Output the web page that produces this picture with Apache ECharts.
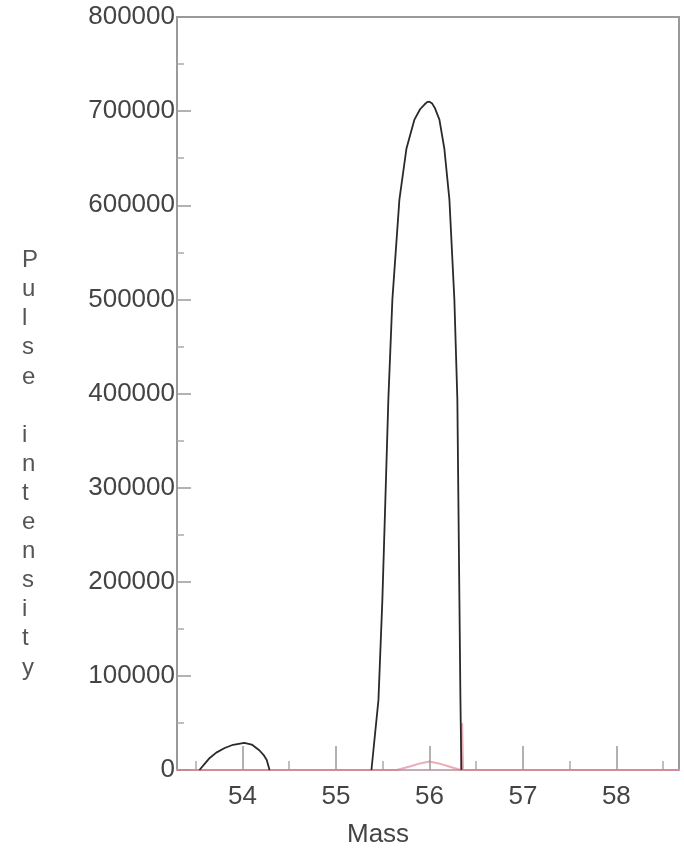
<!DOCTYPE html>
<html>
<head>
<meta charset="utf-8">
<script src="https://cdn.jsdelivr.net/npm/echarts@6/dist/echarts.min.js"></script>
<style>html,body{margin:0;padding:0;background:#fff}#c{width:684px;height:851px}</style>
</head>
<body>
<div id="c"></div>
<script>
// Data
const xTickValues = [54, 55, 56, 57, 58];
const xMinorValues = [53.5, 54.5, 55.5, 56.5, 57.5, 58.5];
const massMain = [53.54, 53.6, 53.65, 53.72, 53.81, 53.9, 54.02, 54.1, 54.18, 54.23, 54.26, 54.29, 54.8,
  55.38, 55.455, 55.497, 55.529, 55.561, 55.604, 55.679, 55.754, 55.84, 55.9, 55.947, 55.975, 56.0, 56.03, 56.06,
  56.107, 56.16, 56.214, 56.267, 56.299, 56.31, 56.321, 56.332, 56.342];
const intensityMain = [0, 7000, 12800, 18500, 23400, 26800, 28700, 27000, 21000, 15500, 10600, 0, null,
  0, 74500, 181000, 287000, 394000, 500000, 606000, 660000, 691000, 702000, 707000, 709500, 710000, 708000, 703000,
  691000, 660000, 606000, 500000, 394000, 287000, 181000, 74500, 0];
const massRed = [53.3, 55.65, 55.8, 55.9, 56.0, 56.1, 56.2, 56.3, 56.34, 56.35, 56.36, 58.67];
const intensityRed = [0, 0, 4000, 7000, 9000, 7000, 4000, 1000, 0, 50000, 0, 0];
const yLabelText = 'Pulse intensity';

const chart = echarts.init(document.getElementById('c'));
const font = 'Liberation Sans';
chart.setOption({
  animation: false,
  grid: {left: 177, right: 5, top: 17, bottom: 81, show: true, borderColor: '#9a9a9a', borderWidth: 2},
  xAxis: [{
    type: 'value', min: 53.3, max: 58.67,
    axisLine: {show: true, lineStyle: {color: '#c9aab2', width: 2}},
    axisTick: {show: true, inside: true, length: 24, customValues: xTickValues, lineStyle: {color: '#999', width: 1.5}},
    axisLabel: {customValues: xTickValues, color: '#444', fontFamily: font, fontSize: 26, margin: 14},
    splitLine: {show: false}
  }, {
    type: 'value', min: 53.3, max: 58.67, position: 'bottom',
    axisLine: {show: false},
    axisTick: {show: true, inside: true, length: 9, customValues: xMinorValues, lineStyle: {color: '#aaa', width: 1.5}},
    axisLabel: {show: false},
    splitLine: {show: false}
  }],
  yAxis: {
    type: 'value', min: 0, max: 800000, interval: 100000,
    axisLine: {show: true, lineStyle: {color: '#9a9a9a', width: 2}},
    axisTick: {show: true, inside: true, length: 14, lineStyle: {color: '#999', width: 1.5}},
    minorTick: {show: true, splitNumber: 2, length: 7, lineStyle: {color: '#aaa', width: 1.5}},
    axisLabel: {color: '#444', fontFamily: font, fontSize: 26, margin: 2, formatter: v => String(v)},
    splitLine: {show: false}
  },
  series: [{
    type: 'line', xAxisIndex: 0, showSymbol: false, symbol: 'none',
    data: massRed.map((m, i) => [m, intensityRed[i]]),
    lineStyle: {color: '#d9788c', width: 2, opacity: 0.6}, z: 2
  }, {
    type: 'line', xAxisIndex: 0, showSymbol: false, symbol: 'none', connectNulls: false,
    data: massMain.map((m, i) => [m, intensityMain[i]]),
    lineStyle: {color: '#2a2a2a', width: 1.8}, z: 3
  }],
  graphic: [{
    type: 'text', left: 347, top: 822,
    style: {text: 'Mass', fontFamily: font, fontSize: 26, fill: '#444'}
  }, {
    type: 'text', left: 22, top: 246,
    style: {text: yLabelText.split('').join('\n'), fontFamily: font, fontSize: 24, lineHeight: 29.1, fill: '#555', align: 'center'}
  }]
});
</script>
</body>
</html>
